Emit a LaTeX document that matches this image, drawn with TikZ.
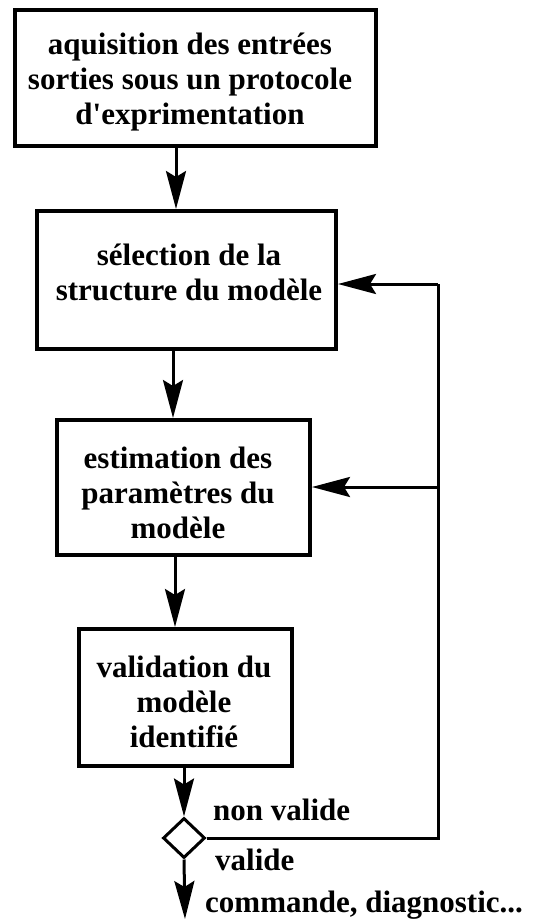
\documentclass[tikz,border=0pt]{standalone}
\usepackage{fontspec}
\setmainfont{Liberation Serif}
\usetikzlibrary{arrows.meta,shapes.geometric}
\begin{document}
\begin{tikzpicture}[x=1pt,y=-1pt,
  boxnode/.style={draw,line width=4pt,rectangle,inner sep=0pt},
  txt/.style={font=\fontsize{31}{35}\selectfont\bfseries,align=center,inner sep=0pt},
  lbl/.style={font=\fontsize{31}{35}\selectfont\bfseries,anchor=west,inner sep=0pt},
  conn/.style={line width=3pt},
  arr/.style={line width=3pt,-{Stealth[length=38pt,width=20pt,inset=6pt]}}]
\useasboundingbox (0,0) rectangle (554,919);
\fill[white] (0,0) rectangle (554,919);
\node[boxnode,minimum width=361pt,minimum height=136pt] (b1) at (195.5,78) {};
\node[boxnode,minimum width=299pt,minimum height=138pt] (b2) at (186.5,280) {};
\node[boxnode,minimum width=253pt,minimum height=135pt] (b3) at (183.5,487.5) {};
\node[boxnode,minimum width=213pt,minimum height=137pt] (b4) at (185.5,697.5) {};
\node[draw,diamond,line width=3pt,minimum width=42pt,minimum height=40pt,inner sep=0pt] (d) at (184,838) {};
\node[txt] (t1) at (190,82) {aquisition des entrées\\sorties sous un protocole\\d\textquotesingle exprimentation};
\node[txt] (t2) at (189,272) {sélection de la\\structure du modèle};
\node[txt] (t3) at (178,493) {estimation des\\paramètres du\\modèle};
\node[txt] (t4) at (184,702) {validation du\\modèle\\identifié};
\node[lbl] (nv) at (213,810) {non valide};
\node[lbl] (v) at (215,860) {valide};
\node[lbl] (cd) at (205,905) {commande, diagnostic...};
\coordinate (r1) at (438,838);
\coordinate (r2) at (438,284);
\coordinate (r3) at (438,487);
\coordinate (e) at (185,919);
\draw[arr] ([xshift=-19.5pt]b1.south) -- ([xshift=-19.5pt]b1.south |- b2.north);
\draw[arr] ([xshift=-13.5pt]b2.south) -- ([xshift=-13.5pt]b2.south |- b3.north);
\draw[arr] ([xshift=-8.5pt]b3.south) -- ([xshift=-8.5pt]b3.south |- b4.north);
\draw[arr] (b4.south -| d.north) -- (d.north);
\draw[arr] (d.south) -- (e);
\draw[conn] (d.east) -- (r1) -- (r2);
\draw[arr] (r2) -- (r2 -| b2.east);
\draw[arr] (r3) -- (r3 -| b3.east);
\end{tikzpicture}
\end{document}
